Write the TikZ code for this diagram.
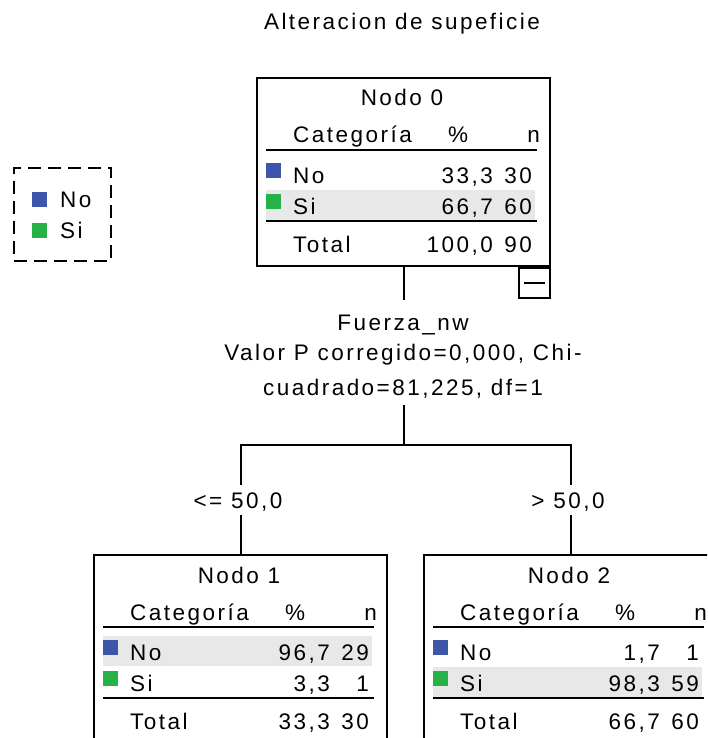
\documentclass[tikz,border=0pt]{standalone}
\usepackage{fontspec}
\setmainfont{Liberation Sans}[LetterSpace=11]
\definecolor{catno}{RGB}{62,86,170}
\definecolor{catsi}{RGB}{38,178,72}
\definecolor{rowshade}{RGB}{232,232,232}
\tikzset{
  txt/.style={inner sep=0pt, font=\fontsize{22.5}{26}\selectfont},
  nbox/.style={draw, line width=2pt, anchor=north west, minimum width=293pt, minimum height=188pt, inner sep=0pt},
  rule/.style={line width=2pt},
  link/.style={line width=2pt},
  swatch/.style={inner sep=0pt, minimum size=15pt, anchor=north west}
}
% One node of the tree: #1 number, #2 top-left corner, #3 top of the shaded row,
% #4/#5 % and n for "No", #6/#7 % and n for "Si", #8/#9 % and n for "Total"
\newcommand{\nodotabla}[9]{%
  \begin{scope}[shift={#2}]
    \fill[rowshade] (10,#3) rectangle (279,#3+30);
    \node[nbox] (nodo#1) at (0,0) {};
    \node[txt, anchor=base] (nodo#1-tit) at (146,29) {Nodo #1};
    \node[txt, anchor=base west] (nodo#1-cat) at (37,66) {Categoría};
    \node[txt, anchor=base] (nodo#1-pc) at (202,66) {\%};
    \node[txt, anchor=base east] (nodo#1-n) at (284,66) {n};
    \draw[rule] (10,73) -- (281,73);
    \node[swatch, fill=catno] (nodo#1-sq1) at (10,86) {};
    \node[txt, anchor=base west] (nodo#1-no) at (37,106) {No};
    \node[txt, anchor=base east] (nodo#1-nop) at (237,106) {#4};
    \node[txt, anchor=base east] (nodo#1-non) at (276,106) {#5};
    \node[swatch, fill=catsi] (nodo#1-sq2) at (10,117) {};
    \node[txt, anchor=base west] (nodo#1-si) at (37,137) {Si};
    \node[txt, anchor=base east] (nodo#1-sip) at (237,137) {#6};
    \node[txt, anchor=base east] (nodo#1-sin) at (276,137) {#7};
    \draw[rule] (10,144) -- (281,144);
    \node[txt, anchor=base west] (nodo#1-tot) at (37,175) {Total};
    \node[txt, anchor=base east] (nodo#1-totp) at (237,175) {#8};
    \node[txt, anchor=base east] (nodo#1-totn) at (276,175) {#9};
  \end{scope}}
\begin{document}
\begin{tikzpicture}[x=1pt, y=-1pt]
  \clip (0,0) rectangle (707,738);
  \fill[white] (0,0) rectangle (707,738);

  % title
  \node[txt, anchor=base] (titulo) at (402,30) {Alteracion de supeficie};

  % legend
  \node[draw, dash pattern=on 13pt off 7pt, line width=1.8pt, anchor=north west,
        minimum width=97pt, minimum height=93pt, inner sep=0pt] (leyenda) at (13,167) {};
  \node[swatch, fill=catno] (ley-sq1) at (32,192) {};
  \node[txt, anchor=base west] (ley-no) at (60,207) {No};
  \node[swatch, fill=catsi] (ley-sq2) at (32,223) {};
  \node[txt, anchor=base west] (ley-si) at (60,238) {Si};

  % tree nodes
  \nodotabla{0}{(256,77)}{113}{33,3}{30}{66,7}{60}{100,0}{90}
  \nodotabla{1}{(93,554)}{82}{96,7}{29}{3,3}{1}{33,3}{30}
  \nodotabla{2}{(423,554)}{113}{1,7}{1}{98,3}{59}{66,7}{60}

  % collapse button under the root
  \node[draw, line width=2pt, anchor=north east, minimum width=31pt, minimum height=30pt,
        inner sep=0pt] (plegar) at (nodo0.south east) {};
  \draw[line width=2pt] ([xshift=-6pt]plegar.east) -- ([xshift=6pt]plegar.west);

  % split description
  \node[txt, anchor=base] (var) at (403,330) {Fuerza\_nw};
  \node[txt, anchor=base] (prueba1) at (403,360) {Valor P corregido=0,000, Chi-};
  \node[txt, anchor=base] (prueba2) at (403,395) {cuadrado=81,225, df=1};

  % branch labels
  \node[txt, anchor=base] (rama1) at (238,508) {<= 50,0};
  \node[txt, anchor=base] (rama2) at (568,508) {> 50,0};

  % connectors
  \coordinate (var-in) at (nodo0.south |- 0,300);
  \coordinate (var-out) at (nodo0.south |- 0,405);
  \coordinate (barra) at (nodo0.south |- 0,445);
  \coordinate (barra1) at (nodo1.north |- barra);
  \coordinate (barra2) at (nodo2.north |- barra);
  \coordinate (rama1-in) at (nodo1.north |- 0,485);
  \coordinate (rama2-in) at (nodo2.north |- 0,485);
  \coordinate (rama1-out) at (nodo1.north |- 0,515);
  \coordinate (rama2-out) at (nodo2.north |- 0,515);
  \draw[link] (nodo0.south) -- (var-in);
  \draw[link] (var-out) -- (barra);
  \draw[link] (rama1-in) -- (barra1) -- (barra2) -- (rama2-in);
  \draw[link] (rama1-out) -- (nodo1.north);
  \draw[link] (rama2-out) -- (nodo2.north);
\end{tikzpicture}
\end{document}
